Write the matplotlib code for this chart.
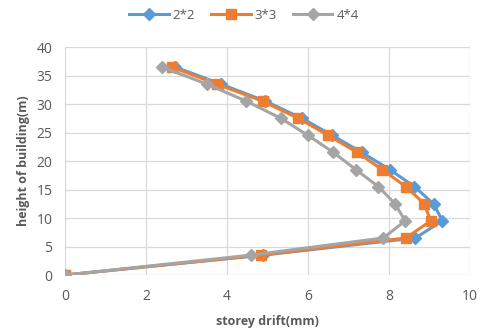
import matplotlib
matplotlib.use("Agg")
import matplotlib.pyplot as plt

# storey heights (m) and drift values (mm) for each grid size
heights = [0, 3.5, 6.5, 9.5, 12.5, 15.5, 18.5, 21.5, 24.5, 27.5, 30.5, 33.5, 36.5]
drift_2x2 = [0, 4.9, 8.65, 9.32, 9.1, 8.63, 8.02, 7.33, 6.6, 5.85, 4.95, 3.85, 2.72]
drift_3x3 = [0, 4.84, 8.42, 9.03, 8.87, 8.42, 7.83, 7.22, 6.5, 5.76, 4.88, 3.75, 2.63]
drift_4x4 = [0, 4.6, 7.86, 8.4, 8.15, 7.74, 7.18, 6.63, 6.0, 5.33, 4.48, 3.5, 2.39]
labels = ["2*2", "3*3", "4*4"]

plt.rcParams['font.family'] = ['Open Sans', 'DejaVu Sans']

fig = plt.figure(figsize=(4.83, 3.36), dpi=100)
ax = fig.add_axes([0.1346, 0.1815, 0.8384, 0.6785])

ax.plot(drift_2x2, heights, color='#5B9BD5', lw=2.2, marker='D', ms=6, label=labels[0])
ax.plot(drift_3x3, heights, color='#ED7D31', lw=2.2, marker='s', ms=7.5, label=labels[1])
ax.plot(drift_4x4, heights, color='#A5A5A5', lw=2.2, marker='D', ms=6, label=labels[2])

ax.set_xlim(0, 10)
ax.set_ylim(0, 40)
ax.set_xticks(range(0, 11, 2))
ax.set_yticks(range(0, 41, 5))
ax.grid(True, color='#D9D9D9', lw=0.9)
ax.set_axisbelow(True)
for s in ax.spines.values():
    s.set_visible(False)
ax.tick_params(axis='both', length=0, labelsize=10, colors='#595959')
ax.tick_params(axis='x', pad=10)
ax.tick_params(axis='y', pad=9)

ax.set_xlabel('storey drift(mm)', fontsize=9, color='#595959', fontweight='bold', labelpad=8)
ax.set_ylabel('height of building(m)', fontsize=9, color='#595959', fontweight='bold', labelpad=5)

fig.legend(loc='upper center', bbox_to_anchor=(0.505, 1.01), ncol=3, frameon=False,
           fontsize=9.5, labelcolor='#595959', handlelength=3, columnspacing=1.2,
           handletextpad=0.3)

fig.savefig('out.png', dpi=100)
